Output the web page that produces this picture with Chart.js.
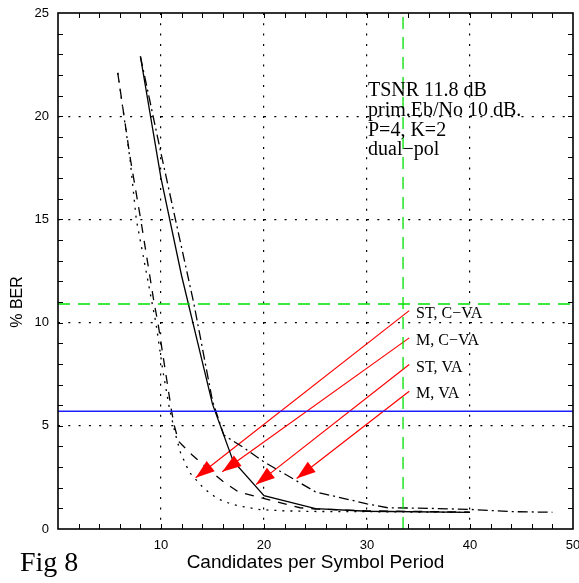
<!DOCTYPE html>
<html><head><meta charset="utf-8">
<script src="https://cdn.jsdelivr.net/npm/chart.js@4"></script>
<style>html,body{margin:0;padding:0;background:#fff;}#wrap{width:579px;height:583px;}</style>
</head><body><div id="wrap"><canvas id="c" width="579" height="583"></canvas></div>
<script>
// ---- data ----
const stCvaX = [5.8, 6.4, 7.0, 7.6, 8.4, 9.15, 9.5, 10.2, 10.8, 11.36, 11.9, 12.75, 14.1, 14.9, 15.7, 16.7, 17.7, 18.6, 19.6, 22, 24.5, 30, 40];
const stCvaY = [22.1, 20, 17.9, 15, 12.9, 10.9, 10, 7.6, 5.9, 4.66, 3.69, 2.75, 2.0, 1.67, 1.43, 1.23, 1.1, 1.03, 0.94, 0.88, 0.85, 0.84, 0.8];
const mCvaX = [5.8, 7.0, 8.03, 9.35, 9.7, 11.03, 11.3, 11.7, 12.2, 13.0, 15.2, 16.0, 17.5, 19.1, 21.0, 23.5, 25, 30, 40];
const mCvaY = [22.1, 18.0, 15, 10.9, 10, 5.7, 5.0, 4.25, 4.0, 3.6, 2.64, 2.31, 1.8, 1.59, 1.35, 1.03, 0.97, 0.88, 0.82];
const stVaX = [8, 10, 12, 15, 17, 20, 25, 30, 40];
const stVaY = [22.9, 17.0, 12.27, 6.05, 3.3, 1.62, 0.99, 0.86, 0.81];
const mVaX = [8, 10, 11.4, 13.2, 15, 16.1, 18, 20, 25, 30, 32, 35, 40, 44, 48];
const mVaY = [22.9, 18.2, 15, 10.9, 6.2, 4.55, 3.95, 3.25, 1.8, 1.22, 1.03, 1.01, 0.95, 0.84, 0.81];

const greenLevel = 10.9;   // horizontal green dashed
const greenX = 33.5;       // vertical green dashed
const blueLevel = 5.7;     // blue solid line

const curveLabels = ['ST, C\u2212VA', 'M, C\u2212VA', 'ST, VA', 'M, VA'];
const arrowFromX = [34.1, 34.1, 34.1, 34.1];
const arrowFromY = [10.58, 9.26, 7.97, 6.67];
const arrowToX = [13.37, 15.95, 19.22, 23.17];
const arrowToY = [2.48, 2.77, 2.15, 2.45];

const noteLines = ['TSNR 11.8 dB', 'prim.Eb/No 10 dB.', 'P=4, K=2', 'dual\u2212pol'];
const xTitle = 'Candidates per Symbol Period';
const yTitle = '% BER';
const figLabel = 'Fig 8';
const xMin = 0, xMax = 50, xStep = 10, xMinor = 2;
const yMin = 0, yMax = 25, yStep = 5, yMinor = 1;

// ---- build ----
const toPts = (xs, ys) => xs.map((x, i) => ({x: x, y: ys[i]}));
const base = {pointRadius: 0, fill: false, tension: 0, borderWidth: 1.3, borderColor: '#000'};

const datasets = [
  Object.assign({}, base, {label: 'greenH', data: toPts([xMin, xMax], [greenLevel, greenLevel]), borderColor: 'rgb(0,225,0)', borderDash: [12, 8]}),
  Object.assign({}, base, {label: 'greenV', data: toPts([greenX, greenX], [yMin, yMax]), borderColor: 'rgb(0,225,0)', borderDash: [12, 8]}),
  Object.assign({}, base, {label: 'blue', data: toPts([xMin, xMax], [blueLevel, blueLevel]), borderColor: 'rgb(30,30,255)', borderWidth: 1.5}),
  Object.assign({}, base, {label: curveLabels[0], data: toPts(stCvaX, stCvaY), borderDash: [2, 6]}),
  Object.assign({}, base, {label: curveLabels[1], data: toPts(mCvaX, mCvaY), borderDash: [9, 8]}),
  Object.assign({}, base, {label: curveLabels[2], data: toPts(stVaX, stVaY)}),
  Object.assign({}, base, {label: curveLabels[3], data: toPts(mVaX, mVaY), borderDash: [10, 4, 2, 4]})
];
for (let i = 0; i < arrowFromX.length; i++) {
  datasets.push(Object.assign({}, base, {label: 'arrow' + i, data: toPts([arrowFromX[i], arrowToX[i]], [arrowFromY[i], arrowToY[i]]), borderColor: 'rgb(255,0,0)', borderWidth: 1.2}));
}

const SANS = '"Liberation Sans", Arial, Helvetica, sans-serif';
const SERIF = '"Liberation Serif", "Times New Roman", serif';

const deco = {
  id: 'deco',
  beforeDraw(chart) {
    const c = chart.ctx;
    c.save(); c.fillStyle = '#fff'; c.fillRect(0, 0, chart.width, chart.height); c.restore();
  },
  afterDatasetsDraw(chart) {
    const c = chart.ctx, a = chart.chartArea, xs = chart.scales.x, ys = chart.scales.y;
    c.save();
    // arrowheads
    c.fillStyle = 'rgb(255,0,0)';
    for (let i = 0; i < arrowToX.length; i++) {
      const x0 = xs.getPixelForValue(arrowFromX[i]), y0 = ys.getPixelForValue(arrowFromY[i]);
      const x1 = xs.getPixelForValue(arrowToX[i]), y1 = ys.getPixelForValue(arrowToY[i]);
      const L = Math.hypot(x1 - x0, y1 - y0), ux = (x1 - x0) / L, uy = (y1 - y0) / L;
      const bx = x1 - ux * 19, by = y1 - uy * 19, px = -uy * 6.5, py = ux * 6.5;
      c.beginPath(); c.moveTo(x1, y1); c.lineTo(bx + px, by + py); c.lineTo(bx - px, by - py); c.closePath(); c.fill();
    }
    // frame
    c.strokeStyle = '#000'; c.lineWidth = 1.6;
    c.strokeRect(a.left, a.top, a.right - a.left, a.bottom - a.top);
    // minor ticks (inward)
    c.lineWidth = 1;
    c.beginPath();
    for (let v = xMin + xMinor; v < xMax; v += xMinor) {
      const p = Math.round(xs.getPixelForValue(v)) + 0.5;
      c.moveTo(p, a.bottom); c.lineTo(p, a.bottom - 5);
      c.moveTo(p, a.top); c.lineTo(p, a.top + 5);
    }
    for (let v = yMin + yMinor; v < yMax; v += yMinor) {
      const p = Math.round(ys.getPixelForValue(v)) + 0.5;
      c.moveTo(a.left, p); c.lineTo(a.left + 5, p);
      c.moveTo(a.right, p); c.lineTo(a.right - 5, p);
    }
    c.stroke();
    // notes
    c.fillStyle = '#000'; c.textAlign = 'left'; c.textBaseline = 'alphabetic';
    c.font = '20px ' + SERIF;
    const noteBase = [96, 116, 136, 155];
    noteLines.forEach((t, i) => c.fillText(t, 368, noteBase[i]));
    c.font = '16px ' + SERIF;
    const labBase = [318, 345, 372, 398];
    curveLabels.forEach((t, i) => c.fillText(t, 416, labBase[i]));
    c.font = '28px ' + SERIF;
    c.fillText(figLabel, 20, 571);
    // axis titles
    c.font = '19px ' + SANS; c.textAlign = 'center';
    c.fillText(xTitle, (a.left + a.right) / 2, 568);
    c.save(); c.translate(22, 302); c.rotate(-Math.PI / 2);
    c.font = '16px ' + SANS; c.fillText(yTitle, 0, 0); c.restore();
    c.restore();
  }
};

const hideEdge = (lo, hi) => ctx => (ctx.tick && (ctx.tick.value === lo || ctx.tick.value === hi)) ? 'rgba(0,0,0,0)' : '#000';

new Chart(document.getElementById('c'), {
  type: 'line',
  data: {datasets: datasets},
  options: {
    responsive: false, animation: false, devicePixelRatio: 1,
    layout: {padding: {top: 13, right: 6, bottom: 0, left: 0}},
    plugins: {legend: {display: false}, tooltip: {enabled: false}},
    scales: {
      x: {
        type: 'linear', min: xMin, max: xMax,
        afterFit(s) { s.height = 54; s.paddingLeft = 0; s.paddingRight = 0; },
        ticks: {stepSize: xStep, autoSkip: false, maxRotation: 0, padding: 9, color: '#000',
          font: {family: SANS, size: 13}, callback: v => v === 0 ? '' : String(v)},
        grid: {color: hideEdge(xMin, xMax), lineWidth: 1.2, drawTicks: false},
        border: {display: false, dash: [2, 8.3]}
      },
      y: {
        type: 'linear', min: yMin, max: yMax,
        afterFit(s) { s.width = 58; s.paddingTop = 0; s.paddingBottom = 0; },
        ticks: {stepSize: yStep, autoSkip: false, padding: 9, color: '#000', font: {family: SANS, size: 13}},
        grid: {color: hideEdge(yMin, yMax), lineWidth: 1.2, drawTicks: false},
        border: {display: false, dash: [2, 8.3]}
      }
    }
  },
  plugins: [deco]
});
</script>
</body></html>
